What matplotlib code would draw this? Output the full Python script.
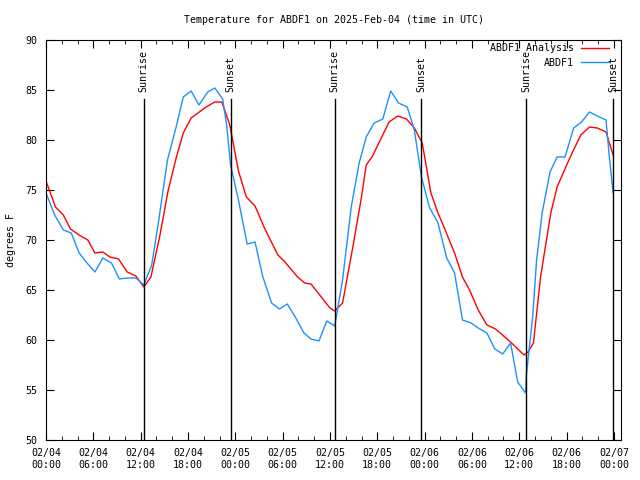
import matplotlib
matplotlib.use('Agg')
import matplotlib.pyplot as plt
import matplotlib.dates as mdates
import numpy as np
import pandas as pd

# время наблюдений в часах от 2025-02-04 00:00 UTC
start = pd.Timestamp('2025-02-04 00:00')

analysis_h = [0.0, 1.2, 2.2, 3.1, 4.2, 5.3, 6.2, 7.2, 8.1, 9.2, 10.3, 11.4, 12.4, 13.3, 14.4,
              15.5, 16.5, 17.4, 18.4, 20.3, 21.4, 22.3, 23.3, 24.4, 25.4, 26.5, 27.7, 29.4,
              30.3, 31.9, 32.8, 33.6, 34.9, 36.0, 36.6, 37.6, 38.9, 40.0, 40.6, 41.4, 42.5,
              43.5, 44.6, 45.7, 46.7, 47.7, 48.8, 49.7, 50.5, 51.8, 52.8, 53.7, 54.8, 55.9,
              57.0, 58.9, 60.6, 61.1, 61.8, 62.7, 64.0, 64.8, 65.9, 66.7, 67.8, 68.9, 69.9,
              71.0, 71.9]
analysis_t = [75.9, 73.3, 72.5, 71.1, 70.5, 70.0, 68.7, 68.8, 68.3, 68.1, 66.8, 66.4, 65.3, 66.3, 70.3,
              75.0, 78.2, 80.7, 82.2, 83.3, 83.8, 83.8, 81.5, 76.9, 74.3, 73.4, 71.2, 68.5,
              67.8, 66.3, 65.7, 65.6, 64.3, 63.2, 62.9, 63.7, 69.3, 74.3, 77.5, 78.4, 80.2,
              81.8, 82.4, 82.1, 81.2, 79.7, 74.7, 72.7, 71.2, 68.7, 66.3, 65.0, 63.0, 61.5,
              61.1, 59.8, 58.5, 58.8, 59.7, 66.3, 72.7, 75.3, 77.3, 78.7, 80.5, 81.3, 81.2,
              80.8, 78.5]

obs_h = [0.0, 1.1, 2.2, 3.2, 4.2, 5.2, 6.2, 7.2, 8.3, 9.3, 10.3, 11.4, 12.4, 13.4, 14.3,
         15.4, 16.5, 17.4, 18.4, 19.4, 20.5, 21.4, 22.4, 22.9, 23.4, 24.4, 25.5, 26.5, 27.5,
         28.6, 29.6, 30.6, 31.6, 32.7, 33.6, 34.6, 35.6, 36.6, 37.6, 38.7, 39.7, 40.6, 41.6,
         42.7, 43.7, 44.7, 45.8, 46.7, 47.6, 48.6, 49.7, 50.8, 51.8, 52.8, 53.9, 54.8, 55.9,
         56.9, 57.9, 58.9, 59.8, 60.8, 60.9, 61.7, 62.2, 62.9, 63.9, 64.8, 65.8, 66.9, 67.9,
         68.9, 69.9, 71.0, 71.4, 71.9]
obs_t = [74.7, 72.5, 71.0, 70.7, 68.7, 67.7, 66.8, 68.2, 67.7, 66.1, 66.2, 66.2, 65.5, 67.5, 72.0,
         78.0, 81.3, 84.3, 84.9, 83.5, 84.8, 85.2, 84.1, 81.5, 77.5, 74.0, 69.6, 69.8, 66.3,
         63.7, 63.1, 63.6, 62.3, 60.7, 60.1, 59.9, 61.9, 61.4, 66.0, 73.3, 77.7, 80.3, 81.7,
         82.1, 84.9, 83.7, 83.3, 81.0, 76.3, 73.3, 71.7, 68.2, 66.7, 62.0, 61.7, 61.2, 60.7,
         59.1, 58.6, 59.7, 55.8, 54.7, 56.5, 62.3, 68.0, 72.7, 76.8, 78.3, 78.3, 81.2, 81.8,
         82.8, 82.4, 82.0, 78.5, 74.7]

sun_h = [12.4, 23.4, 36.6, 47.6, 60.9, 71.9]
sun_labels = ['Sunrise', 'Sunset', 'Sunrise', 'Sunset', 'Sunrise', 'Sunset']


def to_time(hours):
    return [start + pd.Timedelta(hours=h) for h in hours]


plt.rcParams['font.family'] = 'DejaVu Sans Mono'
plt.rcParams['font.size'] = 7.2

fig = plt.figure(figsize=(6.4, 4.8), dpi=100)
ax = fig.add_axes([46 / 640, 40 / 480, 575 / 640, 400 / 480])

ax.plot(to_time(analysis_h), analysis_t, color='#ff0000', lw=1, label='ABDF1 Analysis')
ax.plot(to_time(obs_h), obs_t, color='#1e90ff', lw=1, label='ABDF1')

# линии восхода / заката
for h, lab in zip(sun_h, sun_labels):
    t = start + pd.Timedelta(hours=h)
    ax.axvline(t, ymin=0, ymax=0.8525, color='black', lw=1)
    ax.text(t, 84.75, lab, rotation=90, ha='center', va='bottom', fontsize=7.2)

ax.set_xlim(start, start + pd.Timedelta(hours=72.9))
ax.set_ylim(50, 90)
ax.set_yticks(np.arange(50, 91, 5))
ax.xaxis.set_major_locator(mdates.HourLocator(byhour=[0, 6, 12, 18]))
ax.xaxis.set_minor_locator(mdates.HourLocator(byhour=range(0, 24, 2)))
ax.xaxis.set_major_formatter(mdates.DateFormatter('%m/%d\n%H:%M'))
ax.tick_params(direction='in', which='both', top=True, right=True, pad=6)
ax.tick_params(which='major', length=6)
ax.tick_params(which='minor', length=3)

ax.set_ylabel('degrees F')
ax.yaxis.set_label_coords(-0.052, 0.5)
ax.set_title('Temperature for ABDF1 on 2025-Feb-04 (time in UTC)', fontsize=7.2, pad=12)

ax.legend(loc='upper right', bbox_to_anchor=(1 - 6 / 575, 1 + 3 / 400), frameon=False,
          markerfirst=False, handlelength=2.8, borderaxespad=0.25, labelspacing=0.45,
          handletextpad=0.7)

plt.savefig('out.png')
plt.close()
